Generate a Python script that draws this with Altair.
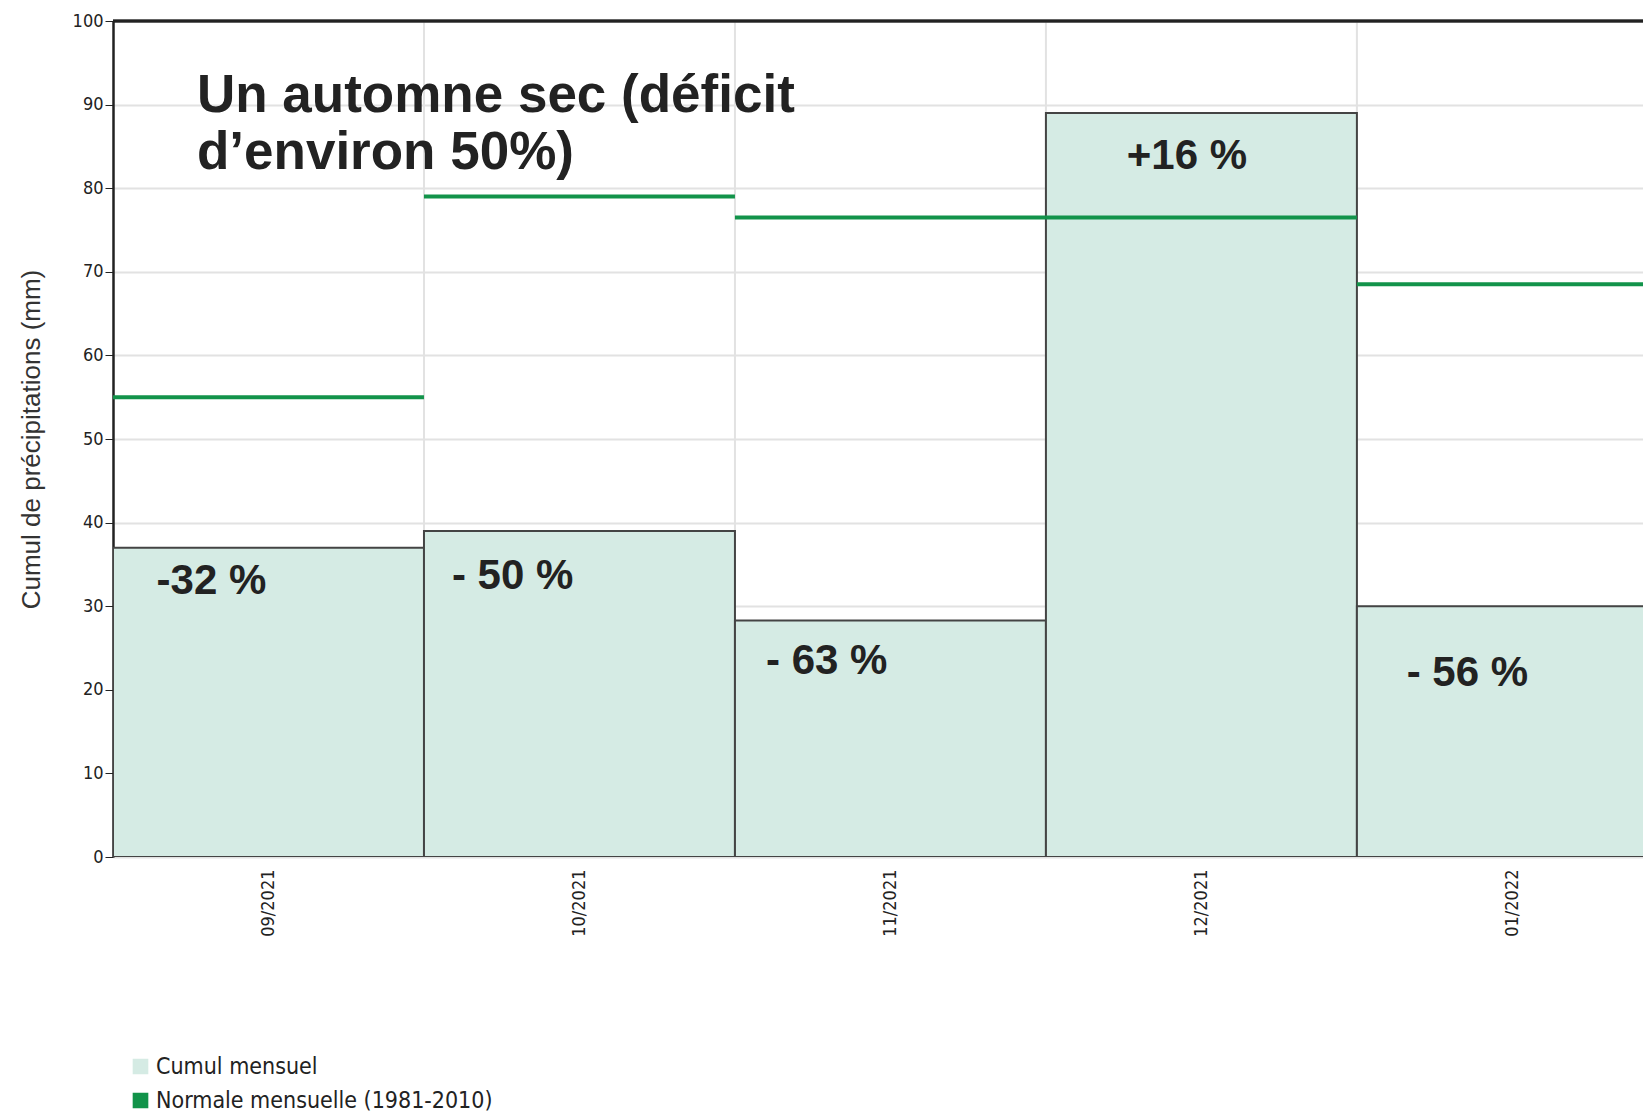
import altair as alt
import pandas as pd

months = ["09/2021", "10/2021", "11/2021", "12/2021", "01/2022"]
cumul = [37, 39, 28.3, 89, 30]
normale = [55, 79, 76.5, 76.5, 68.5]
ecarts = ["-32 %", "- 50 %", "- 63 %", "+16 %", "- 56 %"]
ecart_x = [0.14, 1.09, 2.10, 3.26, 4.16]
ecart_y = [33, 33.6, 23.5, 83.9, 22]

SERIES = ["Cumul mensuel", "Normale mensuelle (1981-2010)"]
idx = list(range(len(months)))
bars = pd.DataFrame({"x": idx, "x2": [i + 1 for i in idx], "v": cumul, "serie": SERIES[0]})
norms = pd.DataFrame({"x": idx, "x2": [i + 1 for i in idx], "v": normale, "serie": SERIES[1]})
labels = pd.DataFrame({"x": ecart_x, "y": ecart_y, "t": ecarts})
title = pd.DataFrame({"x": [0.27, 0.27], "y": [91, 84.2], "t": ["Un automne sec (déficit", "d’environ 50%)"]})
bounds = pd.DataFrame({"x": [1, 2, 3, 4]})

label_expr = "[" + ",".join(f"'{m}'" for m in months) + "][floor(datum.value)]"
xs = alt.Scale(domain=[0, 4.92], nice=False, zero=False)
ys = alt.Scale(domain=[0, 100], nice=False)
color = alt.Color("serie:N", scale=alt.Scale(domain=SERIES, range=["#d5ebe4", "#12934a"]),
                  legend=alt.Legend(title=None, orient="none", legendX=16, legendY=1034,
                                    symbolType="square", symbolSize=200, symbolStrokeColor="#222",
                                    symbolStrokeWidth=1.5, labelFontSize=23, labelColor="#222",
                                    labelFont="DejaVu Sans Condensed", rowPadding=10, labelOffset=4,
                                    labelLimit=0))

grid = alt.Chart(bounds).mark_rule(color="#e2e2e2", strokeWidth=2).encode(
    x=alt.X("x:Q", scale=xs), y=alt.value(0), y2=alt.value(836))

rects = alt.Chart(bars).mark_rect(stroke="#444", strokeWidth=2, clip=True).encode(
    x=alt.X("x:Q", scale=xs, axis=alt.Axis(values=[0.5, 1.5, 2.5, 3.5, 4.5], labelExpr=label_expr,
                                             labelAngle=-90, grid=False, ticks=False, domain=False,
                                             labelFontSize=18, labelFont="DejaVu Sans Condensed",
                                             labelColor="#222", labelPadding=12), title=None),
    x2="x2", y=alt.Y("v:Q", scale=ys,
                     axis=alt.Axis(values=list(range(0, 101, 10)), title="Cumul de précipitations (mm)",
                                   titleFontSize=26, titleFontWeight="normal", titleColor="#333",
                                   titleFont="Liberation Sans", titlePadding=28,
                                   labelFontSize=18, labelFont="DejaVu Sans Condensed", labelColor="#222",
                                   gridColor="#e2e2e2", gridWidth=2, tickColor="#222", tickSize=8,
                                   domainColor="#222", domainWidth=2.5)),
    y2=alt.value(836), color=color)

rules = alt.Chart(norms).mark_rule(strokeWidth=4, clip=True).encode(
    x=alt.X("x:Q", scale=xs), x2="x2", y=alt.Y("v:Q", scale=ys), color=color)

pct = alt.Chart(labels).mark_text(align="left", baseline="middle", fontSize=42, fontWeight="bold",
                                   font="Liberation Sans", color="#222").encode(
    x=alt.X("x:Q", scale=xs), y=alt.Y("y:Q", scale=ys), text="t")

head = alt.Chart(title).mark_text(align="left", baseline="middle", fontSize=53, fontWeight="bold",
                                   font="Liberation Sans", color="#222").encode(
    x=alt.X("x:Q", scale=xs), y=alt.Y("y:Q", scale=ys), text="t")

top = alt.Chart(bounds).mark_rule(color="#222", strokeWidth=2.5).encode(
    x=alt.value(0), x2=alt.value(1530), y=alt.value(0))

chart = alt.layer(grid, rects, rules, top, pct, head).properties(
    width=1530, height=836, autosize=alt.AutoSizeParams(type="none"),
    padding={"left": 105, "top": 13, "right": 0, "bottom": 262}
).configure_view(stroke=None)

chart.save("out.html", embed_options={"renderer": "svg", "actions": False})
